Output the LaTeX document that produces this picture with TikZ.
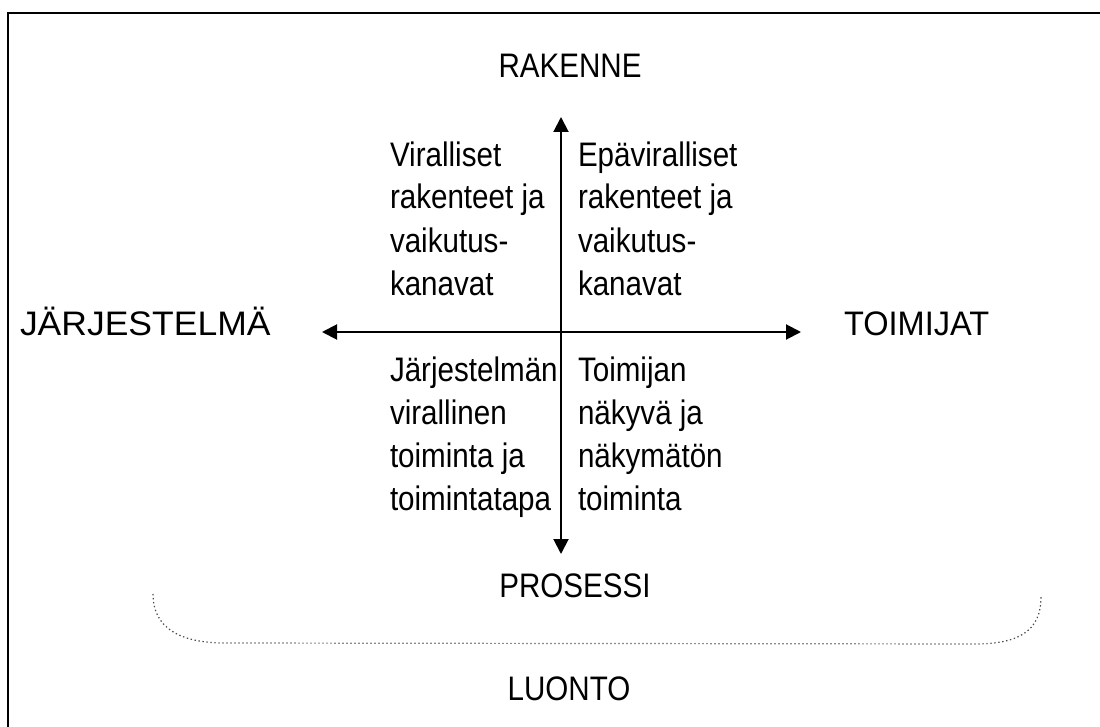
\documentclass[tikz,border=0pt]{standalone}
\usepackage{fontspec}
\setmainfont{Liberation Sans}[FakeStretch=0.87]
\usetikzlibrary{arrows.meta}
\begin{document}
\begin{tikzpicture}[x=1pt,y=-1pt,
  every node/.style={inner sep=0pt,outer sep=0pt,font=\fontsize{34}{43}\selectfont},
  axis/.style={line width=2pt,{Triangle[length=15pt,width=15pt]}-{Triangle[length=15pt,width=15pt]}},
  block/.style={align=left,anchor=base west},
  label/.style={anchor=base},
  brace/.style={line width=1.2pt,black!70,dash pattern=on 1.4pt off 2.6pt}]
\useasboundingbox (0,0) rectangle (1100,727);
\begin{scope}
\clip (0,0) rectangle (1100,727);
\draw[line width=2.5pt] (8,13) rectangle (1120,750);
\end{scope}
% axes
\coordinate (top) at (561,117);
\coordinate (bot) at (561,554);
\coordinate (lft) at (322,332);
\coordinate (rgt) at (801,332);
\draw[axis] (top) -- (bot);
\draw[axis] (lft) -- (rgt);
% axis labels
\node[label] (rak) at (570,78) {RAKENNE};
\node[anchor=base west] (jar) at (20,335) {\scalebox{1.2}[1]{JÄRJESTELMÄ}};
\node[anchor=base west] (toi) at (844,335) {\scalebox{1.1}[1]{TOIMIJAT}};
\node[label] (pro) at (575,597) {PROSESSI};
\node[label] (luo) at (569,700) {LUONTO};
% quadrant texts (anchor = baseline of last line)
\node[block] (q1) at (390,295) {Viralliset\\rakenteet ja\\vaikutus-\\kanavat};
\node[block] (q2) at (578,295) {Epäviralliset\\rakenteet ja\\vaikutus-\\kanavat};
\node[block] (q3) at (390,510) {Järjestelmän\\virallinen\\toiminta ja\\toimintatapa};
\node[block] (q4) at (578,510) {Toimijan\\näkyvä ja\\näkymätön\\toiminta};
% brace
\coordinate (bl) at (153,594);
\coordinate (br) at (1041,597);
\draw[brace] (bl) .. controls (153,628) and (180,643) .. (225,643) -- (975,644) .. controls (1020,644) and (1041,630) .. (br);
\end{tikzpicture}
\end{document}
